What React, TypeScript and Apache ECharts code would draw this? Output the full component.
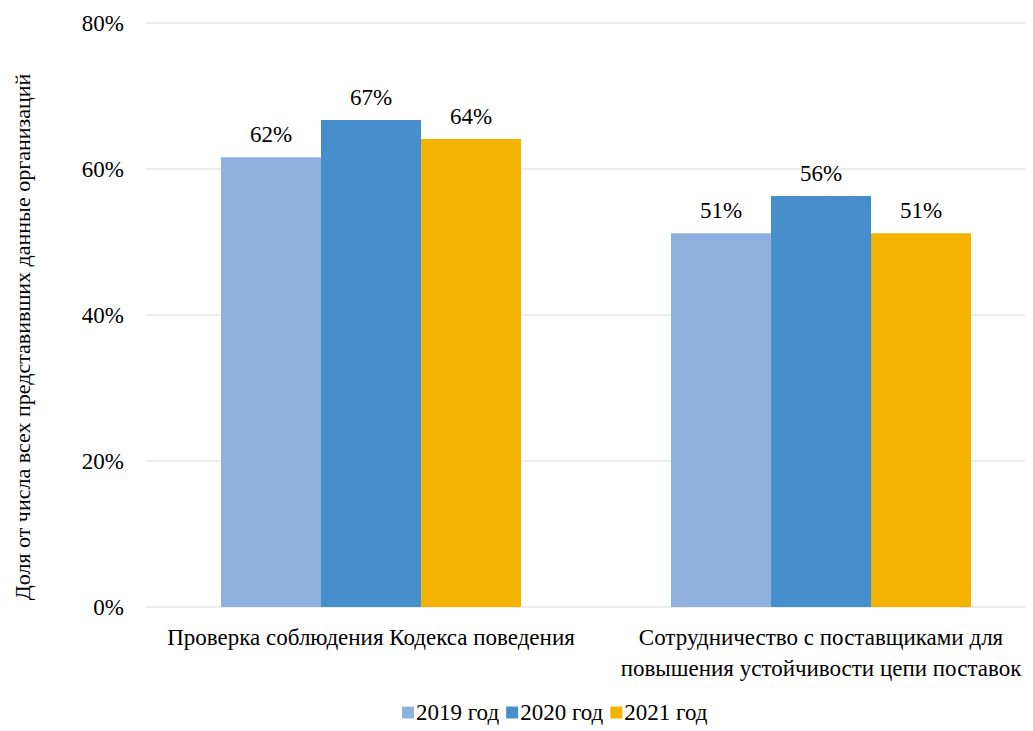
import React, { useEffect, useRef } from "react";
import * as echarts from "echarts";

const categories = [
  "Проверка соблюдения Кодекса поведения",
  "Сотрудничество с поставщиками для\nповышения устойчивости цепи поставок",
];
const seriesNames = ["2019 год", "2020 год", "2021 год"];
const values2019 = [0.616, 0.512];
const values2020 = [0.667, 0.563];
const values2021 = [0.641, 0.512];
const yTicks = [0, 0.2, 0.4, 0.6, 0.8];
const colors = ["#8FB1DF", "#478ECC", "#F4B300"];
const yAxisName = "Доля от числа всех представивших данные организаций";

const FONT = "serif";

export default function App() {
  const ref = useRef<HTMLDivElement>(null);
  useEffect(() => {
    if (!ref.current) return;
    const chart = echarts.init(ref.current, null, { renderer: "svg" });
    const data = [values2019, values2020, values2021];
    chart.setOption({
      animation: false,
      textStyle: { fontFamily: FONT },
      grid: { left: 146, right: -13, top: 23, bottom: 124, containLabel: false, outerBoundsMode: "none" },
      legend: {
        bottom: 2,
        left: 397,
        itemWidth: 12,
        itemHeight: 12,
        itemGap: 7,
        icon: "rect",
        textStyle: { fontFamily: FONT, fontSize: 23, color: "#000", padding: [0, 0, 0, -3] },
        data: seriesNames,
      },
      xAxis: {
        type: "category",
        data: categories,
        axisLine: { show: false },
        axisTick: { show: false },
        axisLabel: {
          fontFamily: FONT,
          fontSize: 23,
          color: "#000",
          margin: 15,
          lineHeight: 31,
          interval: 0,
        },
      },
      yAxis: {
        type: "value",
        min: yTicks[0],
        max: yTicks[yTicks.length - 1],
        interval: 0.2,
        name: yAxisName,
        nameLocation: "middle",
        nameGap: 113,
        nameRotate: 90,
        nameTextStyle: { fontFamily: FONT, fontSize: 22, color: "#000", padding: [0, 44, 0, 0] },
        axisLine: { show: false },
        axisTick: { show: false },
        splitLine: { lineStyle: { color: "#E6E6E6", width: 1.5 } },
        axisLabel: {
          fontFamily: FONT,
          fontSize: 23,
          color: "#000",
          margin: 22,
          formatter: (v: number) => Math.round(v * 100) + "%",
        },
      },
      series: seriesNames.map((name, i) => ({
        name,
        type: "bar",
        data: data[i],
        barWidth: 100,
        barGap: "0%",
        itemStyle: { color: colors[i] },
        label: {
          show: true,
          position: "top",
          distance: 11,
          fontFamily: FONT,
          fontSize: 23,
          color: "#000",
          formatter: (p: any) => Math.round(p.value * 100) + "%",
        },
      })),
    });
    return () => chart.dispose();
  }, []);
  return <div ref={ref} style={{ width: 1033, height: 731, margin: "-8px 0 0 -8px" }} />;
}
